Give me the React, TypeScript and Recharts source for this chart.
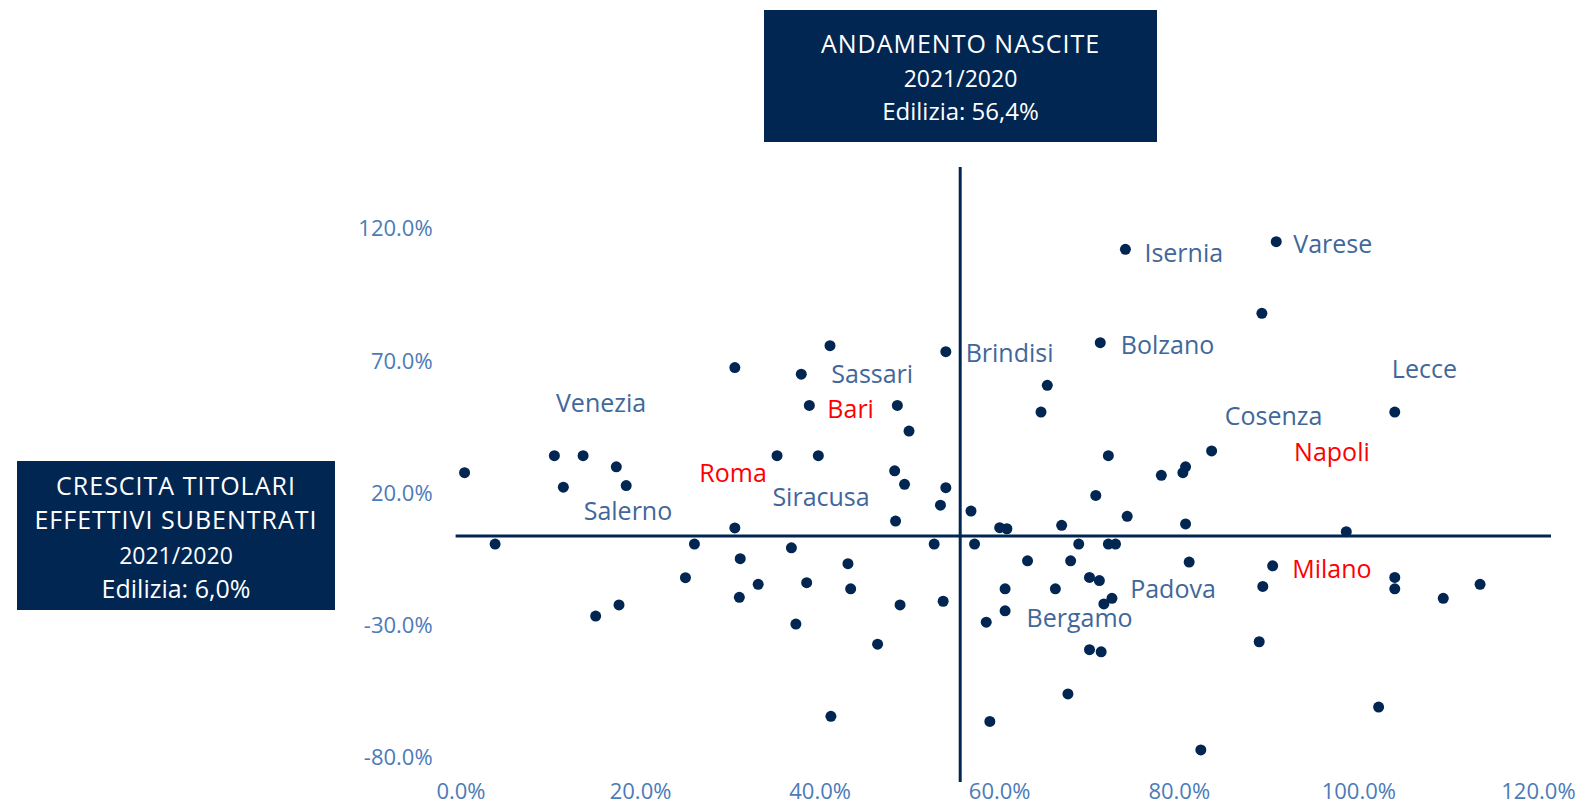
import { ScatterChart, Scatter, XAxis, YAxis, ReferenceLine } from 'recharts';

// andamento nascite 2021/2020 (%)
const nascite = [
  0.4, 3.8, 10.4, 13.6, 11.4, 17.3, 18.4, 15.0, 17.6, 25.0,
  26.0, 30.5, 30.5, 31.1, 31.0, 33.1, 35.2, 36.8, 37.3, 37.9,
  38.5, 38.8, 39.8, 41.1, 41.2, 43.1, 43.4, 46.4, 48.6, 48.3,
  48.4, 48.9, 49.4, 49.9, 52.7, 53.4, 53.7, 54.0, 54.0, 56.8,
  57.2, 58.5, 58.9, 60.0, 60.8, 60.6, 60.6, 63.1, 64.6, 65.3,
  66.2, 66.9, 67.6, 67.9, 68.8, 70.0, 70.0, 70.7, 71.1, 71.2,
  71.3, 71.6, 72.5, 72.1, 72.9, 72.1, 74.0, 74.2, 78.0, 80.4,
  80.7, 80.7, 81.1, 82.4, 83.6, 88.9, 89.2, 89.3, 90.4, 90.8,
  98.6, 102.2, 104.0, 104.0, 104.0, 109.4, 113.5,
];

// crescita titolari effettivi subentrati 2021/2020 (%)
const subentrati = [
  27.7, 0.7, 34.1, 34.1, 22.2, 29.9, 22.8, -26.5, -22.3, -12.0,
  0.7, 67.4, 6.8, -4.8, -19.4, -14.5, 34.1, -0.7, -29.5, 64.9,
  -13.9, 53.1, 34.1, 75.7, -64.4, -6.7, -16.2, -37.1, 53.1, 28.4,
  9.4, -22.3, 23.3, 43.4, 0.7, 15.4, -20.9, 73.4, 22.0, 13.2,
  0.7, -28.8, -66.3, 6.9, 6.5, -16.2, -24.5, -5.6, 50.6, 60.7,
  -16.2, 7.8, -55.9, -5.6, 0.7, -11.9, -39.2, 19.1, -13.1, 76.8,
  -40.0, -21.9, -19.8, 0.7, 0.7, 34.1, 112.1, 11.2, 26.7, 27.7,
  29.9, 8.3, -6.1, -77.1, 35.9, -36.2, 87.9, -15.3, -7.5, 115.0,
  5.4, -60.9, 50.6, -11.9, -16.2, -19.8, -14.5,
];

// etichette delle province
const cityNames = [
  'Venezia', 'Roma', 'Siracusa', 'Salerno', 'Sassari', 'Bari', 'Brindisi', 'Isernia',
  'Bolzano', 'Varese', 'Lecce', 'Cosenza', 'Napoli', 'Milano', 'Padova', 'Bergamo',
];
const cityX = [15.6, 30.3, 40.1, 18.6, 45.8, 43.4, 61.1, 80.5, 78.7, 97.1, 107.3, 90.5, 97.0, 97.0, 79.3, 68.9];
const cityY = [54.5, 28.0, 18.7, 13.6, 65.2, 52.3, 73.2, 111.2, 76.5, 114.6, 67.1, 49.5, 36.0, -8.2, -16.0, -26.8];
const cityHighlight = ['Roma', 'Bari', 'Napoli', 'Milano'];

const xTicks = [0, 20, 40, 60, 80, 100, 120];
const yTicks = [-80, -30, 20, 70, 120];

// dove si incrociano le due linee
const crossX = 55.6;
const crossY = 3.75;

const points = nascite.map((x, i) => ({ x, y: subentrati[i] }));
const cities = cityNames.map((name, i) => ({ x: cityX[i], y: cityY[i], name }));

const NAVY = '#012652';
const TICK = '#4B7BB8';
const FONT = '"Open Sans", sans-serif';

const pct = (v: number) => `${v.toFixed(1)}%`;

const Dot = (p: any) => <circle cx={p.cx} cy={p.cy} r={5.5} fill={NAVY} />;

const CityLabel = (p: any) => (
  <text
    x={p.cx}
    y={p.cy}
    textAnchor="middle"
    dominantBaseline="central"
    fontFamily={FONT}
    fontSize={25}
    fill={cityHighlight.includes(p.payload.name) ? '#FF0000' : '#41679A'}
  >
    {p.payload.name}
  </text>
);

const XTick = (p: any) => (
  <text x={p.x} y={p.y + 11} textAnchor="middle" fontFamily={FONT} fontSize={22} fill={TICK}>
    {pct(p.payload.value)}
  </text>
);

const boxLine = (text: string, top: number, size: number, spacing = 0) => (
  <div
    style={{
      position: 'absolute',
      left: 0,
      right: 0,
      top: top - 16,
      lineHeight: '32px',
      fontSize: size,
      letterSpacing: spacing,
      textAlign: 'center',
      color: '#fff',
      whiteSpace: 'nowrap',
    }}
  >
    {text}
  </div>
);

export default function App() {
  return (
    <div
      style={{
        position: 'absolute',
        left: 0,
        top: 0,
        width: 1583,
        height: 806,
        background: '#fff',
        fontFamily: FONT,
        overflow: 'hidden',
      }}
    >
      <ScatterChart width={1583} height={806} margin={{ top: 167, right: 32, bottom: 0, left: 0 }}>
        <XAxis
          type="number"
          dataKey="x"
          domain={[-0.6, 121.4]}
          ticks={xTicks}
          interval={0}
          allowDataOverflow
          axisLine={false}
          tickLine={false}
          tickMargin={0}
          height={24}
          tick={<XTick />}
        />
        <YAxis
          type="number"
          dataKey="y"
          domain={[-89.2, 143.2]}
          ticks={yTicks}
          interval={0}
          allowDataOverflow
          tickFormatter={pct}
          axisLine={false}
          tickLine={false}
          tickMargin={17}
          width={455.6}
          tick={{ fill: TICK, fontSize: 22, fontFamily: FONT }}
        />
        <ReferenceLine x={crossX} stroke={NAVY} strokeWidth={3} />
        <ReferenceLine y={crossY} stroke={NAVY} strokeWidth={3} />
        <Scatter data={points} shape={Dot} isAnimationActive={false} />
        <Scatter data={cities} shape={CityLabel} isAnimationActive={false} />
      </ScatterChart>

      <div style={{ position: 'absolute', left: 764, top: 10, width: 393, height: 132, background: NAVY }}>
        {boxLine('ANDAMENTO NASCITE', 33, 25, 1)}
        {boxLine('2021/2020', 68, 23)}
        {boxLine('Edilizia: 56,4%', 101, 24)}
      </div>

      <div style={{ position: 'absolute', left: 17, top: 461, width: 318, height: 149, background: NAVY }}>
        {boxLine('CRESCITA TITOLARI', 24, 25, 1)}
        {boxLine('EFFETTIVI SUBENTRATI', 58, 25, 1)}
        {boxLine('2021/2020', 94, 23)}
        {boxLine('Edilizia: 6,0%', 127, 25)}
      </div>
    </div>
  );
}
